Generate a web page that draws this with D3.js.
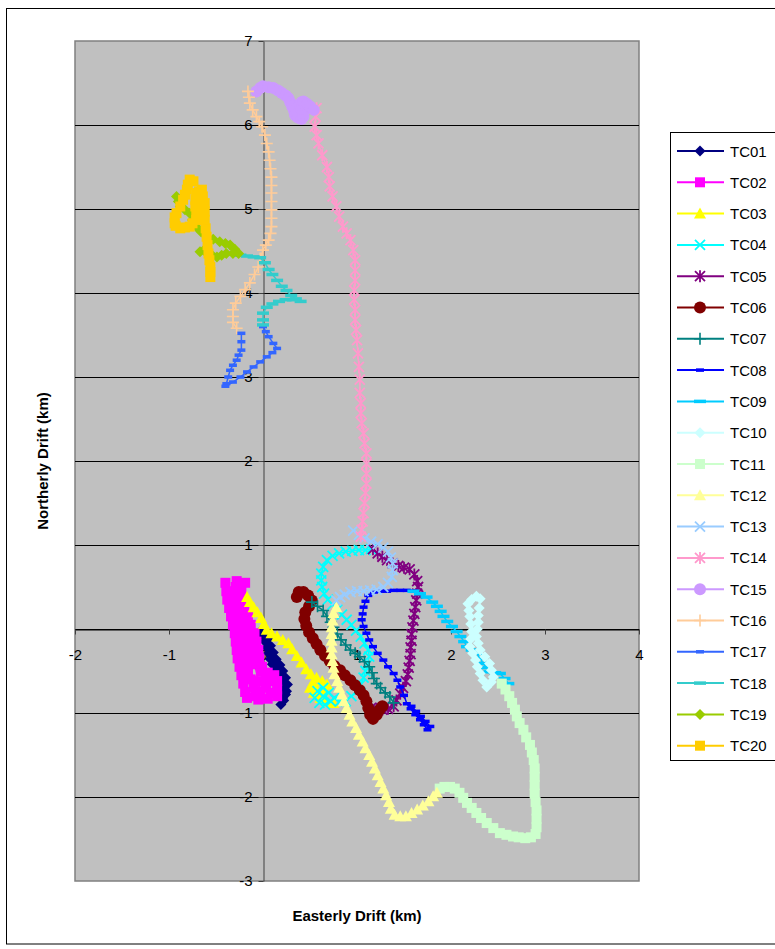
<!DOCTYPE html>
<html>
<head>
<meta charset="utf-8">
<script src="https://cdn.jsdelivr.net/npm/d3@7"></script>
<style>
  body { margin: 0; background: #fff; }
  svg { display: block; font-family: "Liberation Sans", Arial, sans-serif; }
</style>
</head>
<body>
<div id="chart"></div>
<script>
// ---- data (km east, km north) ----
const seriesNames = ["TC01","TC02","TC03","TC04","TC05","TC06","TC07","TC08","TC09","TC10",
                     "TC11","TC12","TC13","TC14","TC15","TC16","TC17","TC18","TC19","TC20"];

const xTicks = [-2, -1, 0, 1, 2, 3, 4];
const yTicks = [-3, -2, -1, 0, 1, 2, 3, 4, 5, 6, 7];

const tc01 = [[-0.02,-0.02],[0.0,-0.08],[0.02,-0.15],[0.04,-0.22],[0.06,-0.29],[0.08,-0.36],[0.1,-0.42],[0.13,-0.48],
  [0.16,-0.54],[0.19,-0.6],[0.21,-0.66],[0.23,-0.72],[0.24,-0.78],[0.22,-0.85],[0.19,-0.9],[0.21,-0.82],[0.25,-0.74],
  [0.26,-0.66],[0.24,-0.58],[0.21,-0.5],[0.18,-0.43],[0.14,-0.36],[0.11,-0.28],[0.08,-0.2],[0.05,-0.12],[0.02,-0.05]];

const tc02 = [[-0.40,0.55],[-0.39,0.45],[-0.38,0.35],[-0.36,0.25],[-0.34,0.15],[-0.32,0.05],[-0.30,-0.05],[-0.29,-0.15],
  [-0.28,-0.25],[-0.27,-0.35],[-0.25,-0.45],[-0.23,-0.55],[-0.21,-0.65],[-0.19,-0.75],[-0.17,-0.82],
  [-0.08,-0.8],[-0.1,-0.7],[-0.13,-0.6],[-0.16,-0.5],[-0.18,-0.4],[-0.19,-0.3],[-0.21,-0.2],[-0.23,-0.1],[-0.25,0.0],
  [-0.27,0.1],[-0.29,0.2],[-0.3,0.3],[-0.3,0.4],[-0.29,0.5],[-0.28,0.57],
  [-0.19,0.55],[-0.23,0.45],[-0.24,0.35],[-0.2,0.25],[-0.16,0.15],[-0.13,0.05],[-0.09,-0.05],[-0.07,-0.15],
  [-0.05,-0.25],[-0.04,-0.35],[-0.01,-0.45],[0.05,-0.52],[0.12,-0.55],[0.15,-0.62],[0.15,-0.72],[0.15,-0.8],
  [0.05,-0.83],[-0.05,-0.84],[0.03,-0.7],[0.03,-0.6],
  [-0.02,-0.5],[-0.1,-0.42],[-0.12,-0.32],[-0.13,-0.22],[-0.15,-0.12],[-0.17,-0.02],[-0.19,0.08],[-0.21,0.18],
  [-0.23,0.28],[-0.05,-0.62],[-0.03,-0.74],[0.08,-0.62],[0.08,-0.76]];

const tc03 = [[-0.17,0.38],[-0.14,0.32],[-0.1,0.26],[-0.06,0.2],[-0.02,0.13],[0.01,0.06],[0.04,-0.01],[0.09,-0.05],
  [0.15,-0.09],[0.21,-0.13],[0.27,-0.17],[0.31,-0.24],[0.36,-0.32],[0.41,-0.4],[0.46,-0.48],[0.51,-0.54],[0.57,-0.58],
  [0.63,-0.62],[0.68,-0.66],[0.66,-0.73],[0.6,-0.77],[0.54,-0.76],[0.5,-0.7],[0.53,-0.64],[0.57,-0.72],[0.61,-0.82],
  [0.68,-0.86],[0.75,-0.88]];

const tc04 = [[0.55,-0.82],[0.6,-0.88],[0.66,-0.9],[0.72,-0.86],[0.64,-0.8],[0.58,-0.74],[0.64,-0.7],[0.7,-0.76],
  [0.76,-0.82],[0.82,-0.86],[0.88,-0.86],[0.94,-0.8],[1.0,-0.74],[1.04,-0.66],[1.07,-0.58],[1.09,-0.5],[1.11,-0.42],
  [1.13,-0.33],[1.12,-0.25],[1.08,-0.17],[1.04,-0.09],[0.99,-0.02],[0.94,0.05],[0.89,0.11],[0.84,0.17],[0.79,0.23],
  [0.74,0.29],[0.69,0.35],[0.65,0.42],[0.63,0.5],[0.62,0.58],[0.62,0.66],[0.64,0.74],[0.68,0.82],[0.74,0.87],
  [0.81,0.9],[0.88,0.92],[0.95,0.93],[1.02,0.94],[1.09,0.94],[1.15,0.95]];

const tc05 = [[1.17,0.95],[1.22,0.9],[1.27,0.86],[1.32,0.82],[1.38,0.78],[1.44,0.75],[1.5,0.73],[1.56,0.71],[1.61,0.65],
  [1.64,0.57],[1.65,0.5],[1.64,0.42],[1.63,0.34],[1.62,0.26],[1.61,0.18],[1.6,0.1],[1.59,0.02],[1.58,-0.06],
  [1.58,-0.14],[1.57,-0.22],[1.57,-0.3],[1.56,-0.38],[1.55,-0.46],[1.54,-0.54],[1.52,-0.62],[1.49,-0.7],[1.46,-0.77],
  [1.42,-0.85],[1.39,-0.92],[1.33,-0.95],[1.27,-0.96],[1.21,-0.95],[1.15,-0.94]];

const tc06 = [[0.36,0.38],[0.38,0.44],[0.43,0.44],[0.48,0.4],[0.52,0.34],[0.49,0.27],[0.45,0.2],[0.44,0.12],[0.46,0.04],
  [0.49,-0.04],[0.53,-0.11],[0.57,-0.18],[0.61,-0.25],[0.66,-0.32],[0.71,-0.38],[0.76,-0.44],[0.82,-0.49],[0.87,-0.55],
  [0.93,-0.61],[0.98,-0.67],[1.03,-0.73],[1.07,-0.79],[1.1,-0.86],[1.12,-0.94],[1.14,-1.02],[1.17,-1.07],[1.21,-1.02],
  [1.24,-0.96],[1.27,-0.92]];

const tc07 = [[0.52,0.32],[0.58,0.27],[0.64,0.22],[0.68,0.15],[0.72,0.08],[0.75,0.02],[0.79,-0.06],[0.83,-0.13],
  [0.88,-0.19],[0.93,-0.25],[0.98,-0.29],[1.03,-0.33],[1.08,-0.39],[1.13,-0.45],[1.16,-0.52],[1.18,-0.59],[1.21,-0.65],
  [1.25,-0.7],[1.3,-0.76],[1.35,-0.81],[1.39,-0.88]];

const tc08 = [[1.6,0.45],[1.53,0.46],[1.46,0.46],[1.39,0.46],[1.32,0.45],[1.25,0.45],[1.18,0.44],[1.12,0.4],[1.09,0.33],
  [1.07,0.26],[1.06,0.18],[1.05,0.11],[1.07,0.03],[1.1,-0.05],[1.13,-0.13],[1.17,-0.21],[1.22,-0.29],[1.28,-0.37],
  [1.33,-0.45],[1.39,-0.53],[1.43,-0.61],[1.46,-0.69],[1.5,-0.79],[1.53,-0.89],[1.57,-0.95],[1.62,-1.02],[1.67,-1.08],
  [1.71,-1.14],[1.75,-1.2],[1.78,-1.16],[1.73,-1.1],[1.68,-1.04],[1.63,-0.98],[1.58,-0.92]];

const tc09 = [[1.6,0.45],[1.67,0.42],[1.74,0.38],[1.8,0.32],[1.85,0.27],[1.89,0.21],[1.92,0.15],[1.96,0.09],[2.01,0.03],
  [2.06,-0.03],[2.1,-0.09],[2.14,-0.15],[2.17,-0.21],[2.22,-0.25],[2.27,-0.29],[2.31,-0.35],[2.34,-0.41],[2.38,-0.46],
  [2.41,-0.51],[2.47,-0.52],[2.52,-0.53],[2.57,-0.59],[2.61,-0.65]];

const tc10 = [[2.31,0.36],[2.27,0.39],[2.22,0.35],[2.18,0.3],[2.19,0.22],[2.2,0.15],[2.21,0.06],[2.22,-0.03],[2.21,-0.12],
  [2.2,-0.21],[2.23,-0.29],[2.26,-0.37],[2.28,-0.45],[2.31,-0.53],[2.34,-0.61],[2.38,-0.69],[2.43,-0.63],[2.45,-0.57],
  [2.43,-0.49],[2.41,-0.41],[2.36,-0.33],[2.31,-0.25],[2.29,-0.17],[2.27,-0.09],[2.28,0.0],[2.29,0.08],[2.29,0.16],
  [2.3,0.25]];

const tc11 = [[2.54,-0.65],[2.58,-0.72],[2.62,-0.8],[2.65,-0.88],[2.68,-0.96],[2.7,-1.04],[2.73,-1.12],[2.77,-1.2],
  [2.8,-1.29],[2.84,-1.38],[2.86,-1.47],[2.88,-1.56],[2.89,-1.66],[2.89,-1.76],[2.89,-1.86],[2.89,-1.96],[2.9,-2.06],
  [2.91,-2.16],[2.91,-2.26],[2.91,-2.36],[2.9,-2.44],[2.85,-2.48],[2.79,-2.49],[2.72,-2.48],[2.66,-2.47],[2.59,-2.45],
  [2.52,-2.43],[2.45,-2.37],[2.38,-2.31],[2.32,-2.25],[2.27,-2.19],[2.22,-2.13],[2.17,-2.07],[2.13,-2.01],[2.09,-1.95],
  [2.04,-1.9],[1.99,-1.88],[1.93,-1.88],[1.88,-1.9]];

const tc12 = [[0.78,0.26],[0.75,0.19],[0.74,0.1],[0.73,0.02],[0.73,-0.06],[0.73,-0.14],[0.73,-0.22],[0.73,-0.3],
  [0.74,-0.38],[0.75,-0.46],[0.76,-0.54],[0.79,-0.62],[0.81,-0.7],[0.84,-0.78],[0.86,-0.86],[0.89,-0.94],[0.92,-1.02],
  [0.95,-1.1],[0.99,-1.18],[1.02,-1.26],[1.06,-1.34],[1.09,-1.42],[1.13,-1.5],[1.16,-1.58],[1.19,-1.66],[1.22,-1.74],
  [1.25,-1.82],[1.28,-1.9],[1.31,-1.98],[1.34,-2.06],[1.36,-2.14],[1.4,-2.21],[1.46,-2.23],[1.52,-2.23],[1.58,-2.19],
  [1.64,-2.15],[1.7,-2.1],[1.76,-2.05],[1.81,-1.99],[1.85,-1.95]];

const tc13 = [[0.96,1.17],[1.02,1.12],[1.08,1.08],[1.15,1.04],[1.22,1.01],[1.28,0.97],[1.33,0.92],[1.36,0.85],
  [1.38,0.78],[1.38,0.7],[1.37,0.62],[1.33,0.55],[1.28,0.5],[1.21,0.47],[1.14,0.46],[1.07,0.45],[1.0,0.45],
  [0.93,0.44],[0.87,0.41],[0.82,0.38],[0.78,0.34]];

const tc14 = [[0.57,6.2],[0.56,6.1],[0.55,5.98],[0.57,5.88],[0.59,5.78],[0.63,5.64],[0.68,5.5],[0.7,5.38],[0.71,5.27],
  [0.74,5.15],[0.78,5.03],[0.81,4.91],[0.85,4.79],[0.89,4.71],[0.93,4.63],[0.96,4.51],[0.98,4.39],[0.98,4.27],
  [0.98,4.15],[0.97,4.03],[0.97,3.92],[0.98,3.8],[0.98,3.68],[0.99,3.56],[1.0,3.44],[1.01,3.28],[1.02,3.12],
  [1.03,2.97],[1.03,2.81],[1.04,2.69],[1.04,2.57],[1.05,2.45],[1.07,2.33],[1.08,2.21],[1.1,2.09],[1.1,1.97],
  [1.1,1.85],[1.1,1.73],[1.09,1.62],[1.08,1.5],[1.07,1.38],[1.06,1.28],[1.05,1.18],[1.04,1.1]];

const tc15 = [[-0.07,6.4],[-0.03,6.44],[0.0,6.46],[0.06,6.45],[0.11,6.44],[0.16,6.41],[0.2,6.38],[0.24,6.35],
  [0.27,6.32],[0.29,6.27],[0.31,6.22],[0.33,6.17],[0.34,6.12],[0.37,6.09],[0.41,6.07],[0.43,6.1],[0.43,6.14],
  [0.41,6.19],[0.39,6.24],[0.41,6.27],[0.43,6.28],[0.47,6.25],[0.5,6.22],[0.54,6.18]];

const tc16 = [[-0.16,6.4],[-0.15,6.33],[-0.14,6.26],[-0.11,6.18],[-0.07,6.1],[-0.04,6.04],[-0.01,5.98],[0.02,5.88],
  [0.04,5.78],[0.06,5.68],[0.07,5.58],[0.08,5.48],[0.09,5.38],[0.09,5.28],[0.09,5.19],[0.09,5.09],[0.09,4.99],
  [0.09,4.89],[0.09,4.79],[0.08,4.71],[0.06,4.63],[0.03,4.57],[0.0,4.51],[-0.03,4.41],[-0.05,4.31],[-0.09,4.22],
  [-0.14,4.12],[-0.19,4.04],[-0.24,3.96],[-0.29,3.88],[-0.32,3.8],[-0.32,3.72],[-0.32,3.65],[-0.28,3.58]];

const tc17 = [[-0.23,3.52],[-0.23,3.42],[-0.23,3.32],[-0.26,3.26],[-0.28,3.2],[-0.32,3.14],[-0.35,3.08],[-0.37,3.0],
  [-0.39,2.92],[-0.4,2.89],[-0.32,2.94],[-0.24,3.0],[-0.17,3.06],[-0.1,3.12],[-0.03,3.18],[0.04,3.24],[0.1,3.29],
  [0.15,3.34],[0.11,3.4],[0.06,3.48],[0.03,3.54],[0.0,3.6]];

const tc18 = [[-0.24,4.45],[-0.17,4.44],[-0.1,4.43],[-0.03,4.42],[0.02,4.36],[0.06,4.28],[0.1,4.22],[0.15,4.15],
  [0.2,4.08],[0.25,4.03],[0.3,3.97],[0.35,3.93],[0.4,3.9],[0.32,3.92],[0.24,3.92],[0.17,3.9],[0.1,3.87],[0.04,3.83],
  [0.0,3.76],[0.0,3.68],[0.0,3.62]];

const tc19 = [[-0.92,5.15],[-0.9,5.09],[-0.88,5.03],[-0.83,4.99],[-0.78,4.95],[-0.75,4.87],[-0.71,4.79],[-0.66,4.73],
  [-0.6,4.67],[-0.53,4.64],[-0.46,4.61],[-0.4,4.59],[-0.35,4.57],[-0.3,4.52],[-0.26,4.47],[-0.32,4.47],[-0.39,4.47],
  [-0.44,4.45],[-0.49,4.43],[-0.56,4.47],[-0.63,4.51],[-0.67,4.49]];

const tc20 = [[-0.56,4.19],[-0.56,4.25],[-0.56,4.31],[-0.57,4.39],[-0.58,4.47],[-0.59,4.57],[-0.6,4.67],[-0.61,4.77],
  [-0.62,4.87],[-0.62,4.97],[-0.62,5.07],[-0.64,5.15],[-0.65,5.23],[-0.68,5.21],[-0.71,5.19],[-0.72,5.11],[-0.72,5.03],
  [-0.71,4.95],[-0.71,4.87],[-0.75,4.83],[-0.78,4.79],[-0.83,4.78],[-0.88,4.77],[-0.93,4.8],[-0.94,4.83],[-0.94,4.9],
  [-0.92,4.95],[-0.88,5.03],[-0.85,5.11],[-0.83,5.17],[-0.81,5.23],[-0.8,5.29],[-0.78,5.35],[-0.74,5.33]];

const seriesData = [tc01,tc02,tc03,tc04,tc05,tc06,tc07,tc08,tc09,tc10,tc11,tc12,tc13,tc14,tc15,tc16,tc17,tc18,tc19,tc20];

// Excel-style colours and markers
const colors = ["#000080","#FF00FF","#FFFF00","#00FFFF","#800080","#800000","#008080","#0000FF","#00CCFF","#CCFFFF",
                "#CCFFCC","#FFFF99","#99CCFF","#FF99CC","#CC99FF","#FFCC99","#3366FF","#33CCCC","#99CC00","#FFCC00"];
const markers = ["diamond","square","triangle","x","star","circle","plus","dash","longdash",
                 "diamond","square","triangle","x","star","circle","plus","dash","longdash","diamond","square"];

// ---- layout ----
const width = 775, height = 949;
const plot = { left: 75, right: 639, top: 41, bottom: 881 };

const svg = d3.select("#chart").append("svg")
  .attr("width", width).attr("height", height);

// outer chart border
svg.append("rect")
  .attr("x", 6.5).attr("y", 8.5)
  .attr("width", 820).attr("height", 935.5)
  .attr("fill", "#fff").attr("stroke", "#000").attr("stroke-width", 1);

const x = d3.scaleLinear().domain([-2, 4]).range([plot.left, plot.right]);
const y = d3.scaleLinear().domain([-3, 7]).range([plot.bottom, plot.top]);

// plot area
svg.append("rect")
  .attr("x", plot.left).attr("y", plot.top)
  .attr("width", plot.right - plot.left).attr("height", plot.bottom - plot.top)
  .attr("fill", "#C0C0C0").attr("stroke", "#808080").attr("stroke-width", 1.5);

// horizontal gridlines
svg.append("g")
  .selectAll("line")
  .data(yTicks.filter(d => d !== -3 && d !== 7))
  .join("line")
  .attr("x1", plot.left).attr("x2", plot.right)
  .attr("y1", d => Math.round(y(d)) + 0.5).attr("y2", d => Math.round(y(d)) + 0.5)
  .attr("stroke", "#000").attr("stroke-width", 1);

const tickText = d => String(d);

// y axis at x = 0
const yAxis = svg.append("g")
  .attr("transform", `translate(${Math.round(x(0)) + 0.5},0)`)
  .call(d3.axisLeft(y).tickValues(yTicks).tickFormat(tickText).tickSize(5).tickSizeOuter(0).tickPadding(6));
yAxis.select(".domain").attr("stroke", "#404040");
yAxis.selectAll(".tick line").attr("stroke", "#404040");
yAxis.selectAll("text").attr("font-size", 15).attr("fill", "#000")
  .attr("font-family", "Liberation Sans, Arial, sans-serif");

// x axis at y = 0
const xAxis = svg.append("g")
  .attr("transform", `translate(0,${Math.round(y(0)) + 0.5})`)
  .call(d3.axisBottom(x).tickValues(xTicks).tickFormat(tickText).tickSize(5).tickSizeOuter(0).tickPadding(15));
xAxis.select(".domain").attr("stroke", "#000");
xAxis.selectAll(".tick line").attr("stroke", "#404040");
xAxis.selectAll("text").attr("font-size", 15).attr("fill", "#000")
  .attr("font-family", "Liberation Sans, Arial, sans-serif");

// marker drawing
function drawMarker(sel, type, color) {
  if (type === "diamond") {
    sel.append("path").attr("d", "M0,-5.5L5.5,0L0,5.5L-5.5,0Z").attr("fill", color);
  } else if (type === "square") {
    sel.append("rect").attr("x", -5).attr("y", -5).attr("width", 10).attr("height", 10).attr("fill", color);
  } else if (type === "triangle") {
    sel.append("path").attr("d", "M0,-6L6,5L-6,5Z").attr("fill", color);
  } else if (type === "circle") {
    sel.append("circle").attr("r", 6).attr("fill", color);
  } else if (type === "x") {
    sel.append("path").attr("d", "M-5,-5L5,5M-5,5L5,-5")
      .attr("stroke", color).attr("stroke-width", 1.8).attr("fill", "none");
  } else if (type === "star") {
    sel.append("path").attr("d", "M-5,-5L5,5M-5,5L5,-5M0,-6L0,6")
      .attr("stroke", color).attr("stroke-width", 1.8).attr("fill", "none");
  } else if (type === "plus") {
    sel.append("path").attr("d", "M-6,0L6,0M0,-6L0,6")
      .attr("stroke", color).attr("stroke-width", 1.6).attr("fill", "none");
  } else if (type === "dash") {
    sel.append("rect").attr("x", -4).attr("y", -1.75).attr("width", 8).attr("height", 3.5).attr("fill", color);
  } else if (type === "longdash") {
    sel.append("rect").attr("x", -6).attr("y", -1.75).attr("width", 12).attr("height", 3.5).attr("fill", color);
  }
}

const line = d3.line().x(d => x(d[0])).y(d => y(d[1]));

const seriesG = svg.append("g");
seriesData.forEach((pts, i) => {
  const g = seriesG.append("g");
  g.append("path")
    .attr("d", line(pts))
    .attr("fill", "none")
    .attr("stroke", colors[i])
    .attr("stroke-width", 1.5);
  g.selectAll("g.pt")
    .data(pts)
    .join("g")
    .attr("class", "pt")
    .attr("transform", d => `translate(${x(d[0])},${y(d[1])})`)
    .each(function() { drawMarker(d3.select(this), markers[i], colors[i]); });
});

// axis titles
svg.append("text")
  .attr("transform", `translate(48,${(plot.top + plot.bottom) / 2}) rotate(-90)`)
  .attr("text-anchor", "middle")
  .attr("font-size", 15).attr("font-weight", "bold")
  .text("Northerly Drift (km)");

svg.append("text")
  .attr("x", (plot.left + plot.right) / 2).attr("y", 921)
  .attr("text-anchor", "middle")
  .attr("font-size", 15).attr("font-weight", "bold")
  .text("Easterly Drift (km)");

// legend
const legend = svg.append("g").attr("transform", "translate(670,132)");
legend.append("rect")
  .attr("x", 0.5).attr("y", 0.5)
  .attr("width", 140).attr("height", 628)
  .attr("fill", "#fff").attr("stroke", "#000").attr("stroke-width", 1);

const item = legend.selectAll("g.item")
  .data(seriesNames)
  .join("g")
  .attr("class", "item")
  .attr("transform", (d, i) => `translate(0,${19 + i * 31.3})`);

item.append("line")
  .attr("x1", 7).attr("x2", 54).attr("y1", 0).attr("y2", 0)
  .attr("stroke", (d, i) => colors[i]).attr("stroke-width", 2);

item.append("g")
  .attr("transform", "translate(30,0)")
  .each(function(d, i) { drawMarker(d3.select(this), markers[i], colors[i]); });

item.append("text")
  .attr("x", 60).attr("y", 5.5)
  .attr("font-size", 15)
  .text(d => d);
</script>
</body>
</html>
